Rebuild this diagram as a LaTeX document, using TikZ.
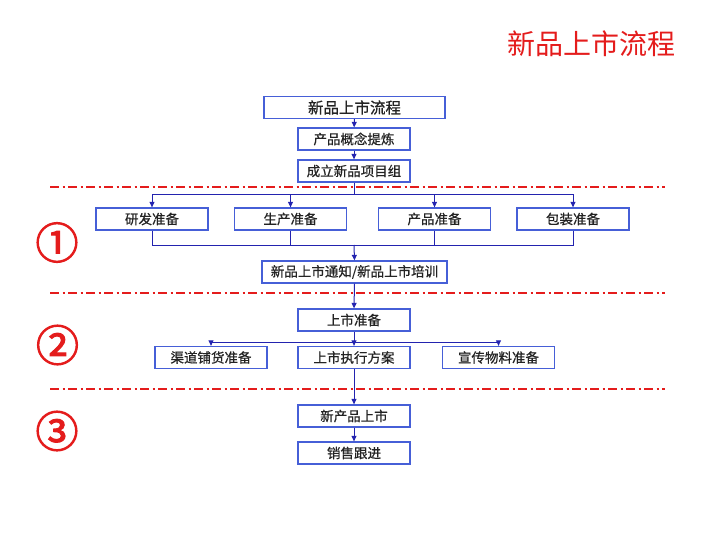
\documentclass[tikz,border=0pt]{standalone}
\usepackage{fontspec}
\setmainfont{Noto Sans CJK SC}
\newfontfamily\cjk{Noto Sans CJK SC}
\newfontfamily\cjkbold[FakeBold=2.5]{Noto Sans CJK SC}
\newfontfamily\cjkmed[FakeBold=0.6]{Noto Sans CJK SC}
\usetikzlibrary{arrows.meta}
\definecolor{boxblue}{RGB}{70,95,215}
\definecolor{lineblue}{RGB}{35,35,175}
\definecolor{txt}{RGB}{35,35,35}
\definecolor{myred}{RGB}{228,28,28}
\tikzset{
  box/.style={draw=boxblue, line width=1.3pt, fill=white, minimum height=22pt, minimum width=112pt, inner sep=0pt, font=\cjkmed\fontsize{13.5}{15}\selectfont, text=txt},
  arr/.style={draw=lineblue, line width=1pt, -{Triangle[length=5.5pt,width=5pt]}},
  ln/.style={draw=lineblue, line width=1pt},
  sep/.style={draw=myred, line width=1.8pt, dash pattern=on 9pt off 3.5pt on 2pt off 3.5pt},
  num/.style={text=myred, font=\cjkbold\fontsize{43}{45}\selectfont, inner sep=0pt},
}
\begin{document}
\begin{tikzpicture}[x=1pt,y=-1pt]
\useasboundingbox (0,0) rectangle (720,540);
% title
\node[text=myred, font=\cjk\fontsize{28}{30}\selectfont, inner sep=0pt] (title) at (591.5,44) {新品上市流程};
% separators
\draw[sep] (50,187) -- (665,187);
\draw[sep] (50,293) -- (665,293);
\draw[sep] (50,389) -- (665,389);
% numbers
\node[num] (n1) at (57,242.5) {①};
\node[num] (n2) at (57.5,345) {②};
\node[num] (n3) at (57,431) {③};
% boxes
\node[box, minimum width=181pt, font=\cjkmed\fontsize{15.5}{17}\selectfont] (b1) at (354.5,107.5) {新品上市流程};
\node[box] (b2) at (354,139) {产品概念提炼};
\node[box] (b3) at (354,171) {成立新品项目组};
\node[box] (r1) at (152,219) {研发准备};
\node[box] (r2) at (290.5,219) {生产准备};
\node[box] (r3) at (434.5,219) {产品准备};
\node[box] (r4) at (573,219) {包装准备};
\node[box, minimum width=185pt] (nt) at (354.5,272) {新品上市通知/新品上市培训};
\node[box] (s0) at (354,320) {上市准备};
\node[box] (s1) at (211,357.5) {渠道铺货准备};
\node[box] (s2) at (354,357.5) {上市执行方案};
\node[box] (s3) at (498.5,357.5) {宣传物料准备};
\node[box] (t1) at (354,416) {新产品上市};
\node[box] (t2) at (354,453) {销售跟进};
% junctions
\coordinate (j1) at (354,195);
\coordinate (j2) at (354,245);
\coordinate (j3) at (354,342);
% connectors
\draw[arr] (b1) -- (b2);
\draw[arr] (b2) -- (b3);
\draw[ln] (b3.south) -- (j1);
\foreach \r in {r1,r2,r3,r4} {\draw[arr] (j1) -| (\r.north);}
\foreach \r in {r1,r2,r3,r4} {\draw[ln] (\r.south) |- (j2);}
\draw[arr] (j2) -- (nt.north);
\draw[arr] (nt.south) -- (s0.north);
\draw[ln] (s0.south) -- (j3);
\draw[arr] (j3) -| (s1.north);
\draw[arr] (j3) -| (s3.north);
\draw[arr] (j3) -- (s2.north);
\draw[arr] (s2.south) -- (t1.north);
\draw[arr] (t1) -- (t2);
\end{tikzpicture}
\end{document}
